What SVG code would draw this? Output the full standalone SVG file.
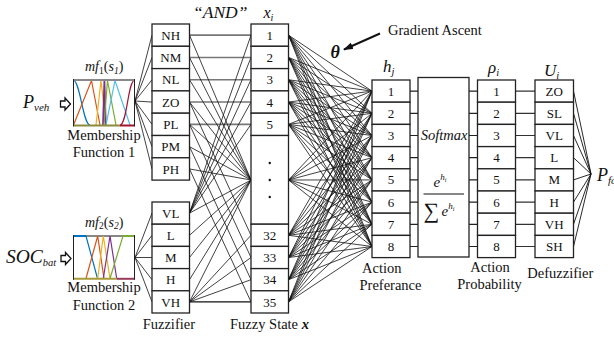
<svg xmlns="http://www.w3.org/2000/svg" width="614" height="339" viewBox="0 0 614 339">
<defs>
<style>
.f{font-family:"Liberation Serif","Times New Roman","DejaVu Serif",serif;fill:#111}
.lbl{font-size:13px;text-anchor:middle}
.cap{font-size:14.5px}
.it{font-style:italic}
.cell{fill:#fff;stroke:#222;stroke-width:1.3}
.w{fill:none;stroke:#111;stroke-width:0.8;stroke-linejoin:round}
.wg{fill:none;stroke:#777;stroke-width:1.6}
.tick{fill:none;stroke:#222;stroke-width:1.2}
.mfc{fill:none;stroke-width:1.2}
.hollow{fill:#fff;stroke:#111;stroke-width:1.3;stroke-linejoin:miter}
</style>
<marker id="head" viewBox="0 0 10 7" refX="9" refY="3.5" markerWidth="10" markerHeight="7" markerUnits="userSpaceOnUse" orient="auto">
<path d="M0,0 L10,3.5 L0,7 z" fill="#111"/>
</marker>
</defs>
<rect width="614" height="339" fill="#fff"/>

<!-- connectors -->
<g id="connectors">
  <!-- membership functions to fuzzifier -->
  <path class="w" d="M135,101 L152,35.15 M135,101 L152,57.45 M135,101 L152,79.75 M135,101 L152,102.05 M135,101 L152,124.35 M135,101 L152,146.65 M135,101 L152,168.95"/>
  <path class="w" d="M135,257.5 L152,213.1 M135,257.5 L152,235.3 M135,257.5 L152,257.5 M135,257.5 L152,279.7 M135,257.5 L152,301.9"/>
  <!-- AND rule links: fuzzifier to fuzzy states -->
  <path class="wg" d="M189.5,35.15 H251 M189.5,57.45 H251 M189.5,79.75 H251 M189.5,102.05 H251 M189.5,124.35 H251"/>
  <path class="w" d="M189.5,301.9 H251" style="stroke-width:1.2"/>
  <path class="w" d="M189.5,35.15 L251,180 M189.5,57.45 L251,180 M189.5,79.75 L251,180
    M189.5,102.05 L251,180 M189.5,102.05 L251,235.3
    M189.5,124.35 L251,180 M189.5,124.35 L251,257.5
    M189.5,146.65 L251,180 M189.5,146.65 L251,279.7
    M189.5,168.95 L251,180 M189.5,168.95 L251,301.9
    M189.5,213.1 L251,35.15 M189.5,213.1 L251,57.45 M189.5,213.1 L251,79.75 M189.5,213.1 L251,102.05 M189.5,213.1 L251,124.35 M189.5,213.1 L251,180
    M189.5,235.3 L251,180 M189.5,257.5 L251,180 M189.5,279.7 L251,180
    M189.5,301.9 L251,180 M189.5,301.9 L251,235.3 M189.5,301.9 L251,257.5 M189.5,301.9 L251,279.7"/>
  <!-- fuzzy states to action preferences (theta weights) -->
  <path class="w" d="
    M372,91.1 L288.5,35.15 L372,113.3 M372,135.5 L288.5,35.15 L372,157.7 M372,179.9 L288.5,35.15 L372,202.1 M372,224.3 L288.5,35.15 L372,246.5
    M372,91.1 L288.5,57.45 L372,113.3 M372,135.5 L288.5,57.45 L372,157.7 M372,179.9 L288.5,57.45 L372,202.1 M372,224.3 L288.5,57.45 L372,246.5
    M372,91.1 L288.5,79.75 L372,113.3 M372,135.5 L288.5,79.75 L372,157.7 M372,179.9 L288.5,79.75 L372,202.1 M372,224.3 L288.5,79.75 L372,246.5
    M372,91.1 L288.5,102.05 L372,113.3 M372,135.5 L288.5,102.05 L372,157.7 M372,179.9 L288.5,102.05 L372,202.1 M372,224.3 L288.5,102.05 L372,246.5
    M372,91.1 L288.5,124.35 L372,113.3 M372,135.5 L288.5,124.35 L372,157.7 M372,179.9 L288.5,124.35 L372,202.1 M372,224.3 L288.5,124.35 L372,246.5
    M372,91.1 L288.5,180 L372,113.3 M372,135.5 L288.5,180 L372,157.7 M372,179.9 L288.5,180 L372,202.1 M372,224.3 L288.5,180 L372,246.5
    M372,91.1 L288.5,235.3 L372,113.3 M372,135.5 L288.5,235.3 L372,157.7 M372,179.9 L288.5,235.3 L372,202.1 M372,224.3 L288.5,235.3 L372,246.5
    M372,91.1 L288.5,257.5 L372,113.3 M372,135.5 L288.5,257.5 L372,157.7 M372,179.9 L288.5,257.5 L372,202.1 M372,224.3 L288.5,257.5 L372,246.5
    M372,91.1 L288.5,279.7 L372,113.3 M372,135.5 L288.5,279.7 L372,157.7 M372,179.9 L288.5,279.7 L372,202.1 M372,224.3 L288.5,279.7 L372,246.5
    M372,91.1 L288.5,301.9 L372,113.3 M372,135.5 L288.5,301.9 L372,157.7 M372,179.9 L288.5,301.9 L372,202.1 M372,224.3 L288.5,301.9 L372,246.5"/>
  <!-- preferences to softmax, softmax to probabilities, probabilities to outputs -->
  <path class="tick" d="M410,91.1 H418 M410,113.3 H418 M410,135.5 H418 M410,157.7 H418 M410,179.9 H418 M410,202.1 H418 M410,224.3 H418 M410,246.5 H418"/>
  <path class="tick" d="M469,91.1 H477.5 M469,113.3 H477.5 M469,135.5 H477.5 M469,157.7 H477.5 M469,179.9 H477.5 M469,202.1 H477.5 M469,224.3 H477.5 M469,246.5 H477.5"/>
  <path class="tick" d="M515.5,91.1 H535 M515.5,113.3 H535 M515.5,135.5 H535 M515.5,157.7 H535 M515.5,179.9 H535 M515.5,202.1 H535 M515.5,224.3 H535 M515.5,246.5 H535" style="stroke:#333"/>
  <!-- defuzzifier to output -->
  <path class="w" d="M573.5,91.1 L591,174 M573.5,113.3 L591,174 M573.5,135.5 L591,174 M573.5,157.7 L591,174 M573.5,179.9 L591,174 M573.5,202.1 L591,174 M573.5,224.3 L591,174 M573.5,246.5 L591,174" style="stroke-width:0.9"/>
  <!-- input arrows -->
  <path class="hollow" d="M60.5,101 h4.5 v-3 l5.5,6 l-5.5,6 v-3 h-4.5 z"/>
  <path class="hollow" d="M61,255.5 h4.5 v-3 l5.5,6 l-5.5,6 v-3 h-4.5 z"/>
  <!-- gradient ascent arrow -->
  <path d="M380,33.5 L344,49.5" stroke="#111" stroke-width="2" fill="none" marker-end="url(#head)"/>
</g>

<!-- inputs -->
<g id="in-Pveh">
  <text class="f it" x="23" y="108" style="font-size:18px">P<tspan style="font-size:11px" dy="3">veh</tspan></text>
</g>
<g id="in-SOC">
  <text class="f it" x="6" y="263" style="font-size:19.5px">SOC<tspan style="font-size:10.5px" dy="3">bat</tspan></text>
</g>

<!-- membership function 1 -->
<g id="mf1">
  <text class="f" x="85" y="71" style="font-size:14px"><tspan class="it">mf</tspan><tspan style="font-size:9.5px" dy="2.5">1</tspan><tspan dy="-2.5">(</tspan><tspan class="it">s</tspan><tspan class="it" style="font-size:9.5px" dy="2.5">1</tspan><tspan dy="-2.5">)</tspan></text>
  <rect x="73.5" y="80" width="61" height="45.5" fill="#fff"/>
  <path class="mfc" stroke="#0072BD" d="M73.5,80.5 C80,80.5 83,125 90,125"/>
  <path class="mfc" stroke="#D95319" d="M73.5,125 L91.5,80.5 L100,125"/>
  <path class="mfc" stroke="#EDB120" d="M96,125 L101,80.5 L106,125"/>
  <path class="mfc" stroke="#7E2F8E" d="M103,125 L104.4,80.5 L105.8,125" style="stroke-width:1.8"/>
  <path class="mfc" stroke="#77AC30" d="M104,125 L107.5,80.5 L116,125"/>
  <path class="mfc" stroke="#4DBEEE" d="M106,125 L115,80.5 L130,125"/>
  <path class="mfc" stroke="#A2142F" d="M120,125 C127,125 128,80.5 134.5,80.5"/>
  <path d="M73.5,80 H134.5" stroke="#888" stroke-width="2"/>
  <path d="M73.5,125.5 H120" stroke="#8c8c3c" stroke-width="2"/>
  <path d="M120,125.5 H134.5" stroke="#A2142F" stroke-width="2"/>
  <path d="M73.5,79 V126.5 M134.5,79 V126.5" stroke="#222" stroke-width="1"/>
  <text class="f cap" x="104" y="140" text-anchor="middle">Membership</text>
  <text class="f cap" x="104" y="156.7" text-anchor="middle">Function 1</text>
</g>

<!-- membership function 2 -->
<g id="mf2">
  <text class="f" x="85" y="226.7" style="font-size:14px"><tspan class="it">mf</tspan><tspan style="font-size:9.5px" dy="2.5">2</tspan><tspan dy="-2.5">(</tspan><tspan class="it">s</tspan><tspan class="it" style="font-size:9.5px" dy="2.5">2</tspan><tspan dy="-2.5">)</tspan></text>
  <rect x="73.5" y="235.5" width="61" height="43.5" fill="#fff"/>
  <path d="M73.5,236 H134.5" stroke="#888" stroke-width="2"/>
  <path class="mfc" stroke="#0072BD" d="M73.5,236 H86 L97.5,278.5"/>
  <path class="mfc" stroke="#D95319" d="M86,278.5 L97.7,236 L104,278.5"/>
  <path class="mfc" stroke="#EDB120" d="M97.7,278.5 L103.3,236 L110,278.5"/>
  <path class="mfc" stroke="#7E2F8E" d="M103.3,278.5 L110,236 L116.7,278.5"/>
  <path class="mfc" stroke="#77AC30" d="M110,278.5 L123,236 H134.5"/>
  <path d="M73.5,236 H86" stroke="#0072BD" stroke-width="2"/>
  <path d="M123,236 H134.5" stroke="#77AC30" stroke-width="2"/>
  <path d="M73.5,278.8 H116.7" stroke="#a89b3a" stroke-width="2"/>
  <path d="M116.7,278.8 H134.5" stroke="#9a3a5a" stroke-width="2"/>
  <path d="M73.5,235 V279.8 M134.5,235 V279.8" stroke="#222" stroke-width="1"/>
  <text class="f cap" x="104" y="292.3" text-anchor="middle">Membership</text>
  <text class="f cap" x="104" y="310" text-anchor="middle">Function 2</text>
</g>

<!-- fuzzifier, input 1 -->
<g id="fz-NH"><rect class="cell" x="152" y="24" width="37.5" height="22.3"/><text class="f lbl" x="170.75" y="39.8">NH</text></g>
<g id="fz-NM"><rect class="cell" x="152" y="46.3" width="37.5" height="22.3"/><text class="f lbl" x="170.75" y="62.1">NM</text></g>
<g id="fz-NL"><rect class="cell" x="152" y="68.6" width="37.5" height="22.3"/><text class="f lbl" x="170.75" y="84.4">NL</text></g>
<g id="fz-ZO"><rect class="cell" x="152" y="90.9" width="37.5" height="22.3"/><text class="f lbl" x="170.75" y="106.7">ZO</text></g>
<g id="fz-PL"><rect class="cell" x="152" y="113.2" width="37.5" height="22.3"/><text class="f lbl" x="170.75" y="129">PL</text></g>
<g id="fz-PM"><rect class="cell" x="152" y="135.5" width="37.5" height="22.3"/><text class="f lbl" x="170.75" y="151.3">PM</text></g>
<g id="fz-PH"><rect class="cell" x="152" y="157.8" width="37.5" height="22.3"/><text class="f lbl" x="170.75" y="173.6">PH</text></g>
<!-- fuzzifier, input 2 -->
<g id="fz-VL"><rect class="cell" x="152" y="202" width="37.5" height="22.2"/><text class="f lbl" x="170.75" y="217.7">VL</text></g>
<g id="fz-L"><rect class="cell" x="152" y="224.2" width="37.5" height="22.2"/><text class="f lbl" x="170.75" y="239.9">L</text></g>
<g id="fz-M"><rect class="cell" x="152" y="246.4" width="37.5" height="22.2"/><text class="f lbl" x="170.75" y="262.1">M</text></g>
<g id="fz-H"><rect class="cell" x="152" y="268.6" width="37.5" height="22.2"/><text class="f lbl" x="170.75" y="284.3">H</text></g>
<g id="fz-VH"><rect class="cell" x="152" y="290.8" width="37.5" height="22.2"/><text class="f lbl" x="170.75" y="306.5">VH</text></g>
<text class="f cap" x="142.7" y="329.3">Fuzzifier</text>

<!-- fuzzy states -->
<text class="f it" x="193" y="18.3" style="font-size:17.5px">“AND”</text>
<text class="f it" x="263.5" y="18.3" style="font-size:16px">x<tspan style="font-size:10px" dy="3">i</tspan></text>
<g id="x1"><rect class="cell" x="251" y="24" width="37.5" height="22.3"/><text class="f lbl" x="269.75" y="39.8">1</text></g>
<g id="x2"><rect class="cell" x="251" y="46.3" width="37.5" height="22.3"/><text class="f lbl" x="269.75" y="62.1">2</text></g>
<g id="x3"><rect class="cell" x="251" y="68.6" width="37.5" height="22.3"/><text class="f lbl" x="269.75" y="84.4">3</text></g>
<g id="x4"><rect class="cell" x="251" y="90.9" width="37.5" height="22.3"/><text class="f lbl" x="269.75" y="106.7">4</text></g>
<g id="x5"><rect class="cell" x="251" y="113.2" width="37.5" height="22.3"/><text class="f lbl" x="269.75" y="129">5</text></g>
<g id="x6-31"><rect class="cell" x="251" y="135.5" width="37.5" height="88.7"/>
  <circle cx="269.75" cy="163" r="1.2" fill="#111"/><circle cx="269.75" cy="180" r="1.2" fill="#111"/><circle cx="269.75" cy="197" r="1.2" fill="#111"/></g>
<g id="x32"><rect class="cell" x="251" y="224.2" width="37.5" height="22.2"/><text class="f lbl" x="269.75" y="239.9">32</text></g>
<g id="x33"><rect class="cell" x="251" y="246.4" width="37.5" height="22.2"/><text class="f lbl" x="269.75" y="262.1">33</text></g>
<g id="x34"><rect class="cell" x="251" y="268.6" width="37.5" height="22.2"/><text class="f lbl" x="269.75" y="284.3">34</text></g>
<g id="x35"><rect class="cell" x="251" y="290.8" width="37.5" height="22.2"/><text class="f lbl" x="269.75" y="306.5">35</text></g>
<text class="f cap" x="230" y="329.3">Fuzzy State <tspan style="font-style:italic;font-weight:bold">x</tspan></text>

<!-- gradient ascent on theta -->
<g id="theta">
  <text class="f it" x="330.5" y="58" style="font-size:18px;font-weight:bold">θ</text>
  <text class="f cap" x="388" y="34.5">Gradient Ascent</text>
</g>

<!-- action preferences -->
<text class="f it" x="383" y="71.7" style="font-size:17px">h<tspan style="font-size:10.5px" dy="3">j</tspan></text>
<g id="h1"><rect class="cell" x="372" y="80" width="38" height="22.2"/><text class="f lbl" x="391" y="95.5">1</text></g>
<g id="h2"><rect class="cell" x="372" y="102.2" width="38" height="22.2"/><text class="f lbl" x="391" y="117.7">2</text></g>
<g id="h3"><rect class="cell" x="372" y="124.4" width="38" height="22.2"/><text class="f lbl" x="391" y="139.9">3</text></g>
<g id="h4"><rect class="cell" x="372" y="146.6" width="38" height="22.2"/><text class="f lbl" x="391" y="162.1">4</text></g>
<g id="h5"><rect class="cell" x="372" y="168.8" width="38" height="22.2"/><text class="f lbl" x="391" y="184.3">5</text></g>
<g id="h6"><rect class="cell" x="372" y="191" width="38" height="22.2"/><text class="f lbl" x="391" y="206.5">6</text></g>
<g id="h7"><rect class="cell" x="372" y="213.2" width="38" height="22.2"/><text class="f lbl" x="391" y="228.7">7</text></g>
<g id="h8"><rect class="cell" x="372" y="235.4" width="38" height="22.2"/><text class="f lbl" x="391" y="250.9">8</text></g>
<text class="f cap" x="362" y="273.3">Action</text>
<text class="f cap" x="359.5" y="290">Preferance</text>

<!-- softmax -->
<g id="softmax">
  <rect class="cell" x="418" y="77.5" width="51" height="179.5"/>
  <text class="f it" x="444" y="140" text-anchor="middle" style="font-size:14.5px">Softmax</text>
  <text class="f it" x="433.5" y="187" style="font-size:15px">e<tspan style="font-size:9px" dy="-7">h</tspan><tspan style="font-size:6px" dy="2">i</tspan></text>
  <path d="M423.5,194 H464" stroke="#111" stroke-width="1"/>
  <text class="f" x="423.5" y="218" style="font-size:22px">∑</text>
  <text class="f it" x="441.5" y="216" style="font-size:15px">e<tspan style="font-size:9px" dy="-7">h</tspan><tspan style="font-size:6px" dy="2">i</tspan></text>
</g>

<!-- action probabilities -->
<text class="f it" x="488" y="73" style="font-size:17px">ρ<tspan style="font-size:10.5px" dy="3">i</tspan></text>
<g id="p1"><rect class="cell" x="477.5" y="80" width="38" height="22.2"/><text class="f lbl" x="496.5" y="95.5">1</text></g>
<g id="p2"><rect class="cell" x="477.5" y="102.2" width="38" height="22.2"/><text class="f lbl" x="496.5" y="117.7">2</text></g>
<g id="p3"><rect class="cell" x="477.5" y="124.4" width="38" height="22.2"/><text class="f lbl" x="496.5" y="139.9">3</text></g>
<g id="p4"><rect class="cell" x="477.5" y="146.6" width="38" height="22.2"/><text class="f lbl" x="496.5" y="162.1">4</text></g>
<g id="p5"><rect class="cell" x="477.5" y="168.8" width="38" height="22.2"/><text class="f lbl" x="496.5" y="184.3">5</text></g>
<g id="p6"><rect class="cell" x="477.5" y="191" width="38" height="22.2"/><text class="f lbl" x="496.5" y="206.5">6</text></g>
<g id="p7"><rect class="cell" x="477.5" y="213.2" width="38" height="22.2"/><text class="f lbl" x="496.5" y="228.7">7</text></g>
<g id="p8"><rect class="cell" x="477.5" y="235.4" width="38" height="22.2"/><text class="f lbl" x="496.5" y="250.9">8</text></g>
<text class="f cap" x="490" y="271.7" text-anchor="middle">Action</text>
<text class="f cap" x="489.5" y="289.3" text-anchor="middle">Probability</text>

<!-- defuzzifier -->
<text class="f it" x="544" y="76" style="font-size:17px">U<tspan style="font-size:10.5px" dy="3">i</tspan></text>
<g id="u-ZO"><rect class="cell" x="535" y="80" width="38.5" height="22.2"/><text class="f lbl" x="554.25" y="95.5">ZO</text></g>
<g id="u-SL"><rect class="cell" x="535" y="102.2" width="38.5" height="22.2"/><text class="f lbl" x="554.25" y="117.7">SL</text></g>
<g id="u-VL"><rect class="cell" x="535" y="124.4" width="38.5" height="22.2"/><text class="f lbl" x="554.25" y="139.9">VL</text></g>
<g id="u-L"><rect class="cell" x="535" y="146.6" width="38.5" height="22.2"/><text class="f lbl" x="554.25" y="162.1">L</text></g>
<g id="u-M"><rect class="cell" x="535" y="168.8" width="38.5" height="22.2"/><text class="f lbl" x="554.25" y="184.3">M</text></g>
<g id="u-H"><rect class="cell" x="535" y="191" width="38.5" height="22.2"/><text class="f lbl" x="554.25" y="206.5">H</text></g>
<g id="u-VH"><rect class="cell" x="535" y="213.2" width="38.5" height="22.2"/><text class="f lbl" x="554.25" y="228.7">VH</text></g>
<g id="u-SH"><rect class="cell" x="535" y="235.4" width="38.5" height="22.2"/><text class="f lbl" x="554.25" y="250.9">SH</text></g>
<text class="f cap" x="527.3" y="278.3">Defuzzifier</text>

<!-- output -->
<g id="out-Pfc">
  <text class="f it" x="597" y="181" style="font-size:18px">P<tspan style="font-size:11px" dy="3">fc</tspan></text>
</g>
</svg>
